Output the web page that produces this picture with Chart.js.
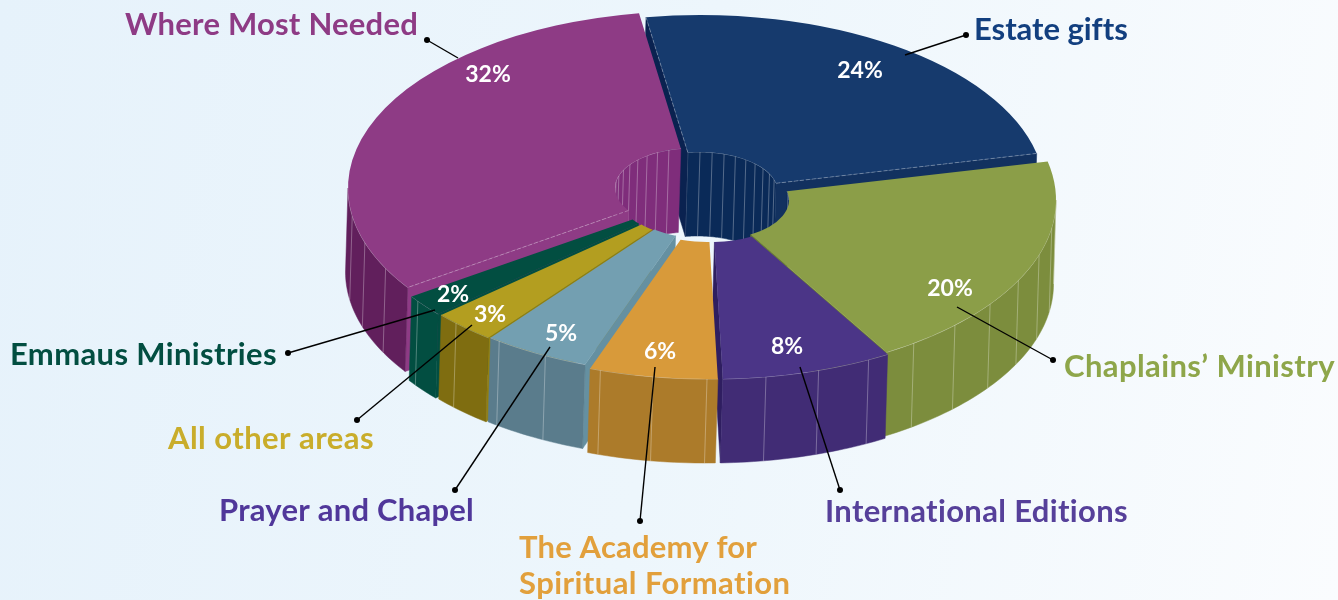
<!DOCTYPE html>
<html>
<head>
<meta charset="utf-8">
<script src="https://cdn.jsdelivr.net/npm/chart.js@4"></script>
<style>
html,body{margin:0;padding:0;width:1338px;height:600px;overflow:hidden;background:linear-gradient(100deg,#e6f2fb 0%,#edf6fc 50%,#fafcfe 100%)}
canvas{display:block}
</style>
</head>
<body>
<canvas id="c" width="1338" height="600"></canvas>
<script>
const categories = ["Estate gifts","Chaplains’ Ministry","International Editions","The Academy for Spiritual Formation","Prayer and Chapel","All other areas","Emmaus Ministries","Where Most Needed"];
const shares = [24,20,8,6,5,3,2,32];
const topColors = ["#163a6d","#8b9e48","#4b3587","#d89a3a","#739fb1","#b39e20","#024e41","#8e3b85"];
const wallColors = ["#12315f","#7c8d3d","#412c75","#ac7b2a","#5a7c8c","#7f6d10","#024e41","#611f5c"];
const cutColors = ["#0a2250","#70822f","#2f1e60","#a87828","#6590a1","#94800f","#024e41","#8e3b85"];
const innerColors = ["#0a2a58","#0a2a58","#412c75","#ac7b2a","#5a7c8c","#7f6d10","#024e41","#7f2d7b"];
const labelColors = ["#123f7f","#8ea64a","#56409a","#e2a03c","#50379a","#c9ad2b","#024e41","#8e3b85"];

const GEO = {rx:345, ry:177, depth:84, lean:-2.5, cutout:'22.6%', rotation:-9};
// where each exploded slice's centre lands on the page
const ORIGINS = [[700,192],[711,200],[712,202],[707,202],[702,198],[700,198],[697,197],[693,188]];
const LABELS = [
 {lines:["Estate gifts"],x:974,y:[40],w:[153]},
 {lines:["Chaplains’ Ministry"],x:1064,y:[377],w:[271]},
 {lines:["International Editions"],x:825,y:[522],w:[304]},
 {lines:["The Academy for","Spiritual Formation"],x:519,y:[558,594],w:[238,272]},
 {lines:["Prayer and Chapel"],x:219,y:[521],w:[255]},
 {lines:["All other areas"],x:168,y:[449],w:[206]},
 {lines:["Emmaus Ministries"],x:10,y:[365],w:[267]},
 {lines:["Where Most Needed"],x:125,y:[35],w:[293]}
];
const PCT = [[860,71],[950,289],[787,347],[660,352],[561,334],[490,315],[453,295],[488,75]];
const LEADERS = [[966,35,905,55],[1053,360,957,307],[840,490,800,367],[640,521,655,367],[455,490,550,347],[357,420,472,325],[288,353,435,310],[427,40,458,58]];

const TAU = Math.PI*2;
function pt(arc, i, ang, r, depth){
  const sx=GEO.rx/arc.outerRadius, sy=GEO.ry/arc.outerRadius;
  return [ORIGINS[i][0] + sx*r*Math.cos(ang) + GEO.lean*depth/GEO.depth, ORIGINS[i][1] + sy*r*Math.sin(ang) + depth];
}
function overlap(a1,a2,lo,hi){
  for(let k=-1;k<=1;k++){
    const s=Math.max(a1,lo+k*TAU), e=Math.min(a2,hi+k*TAU);
    if(e>s) return [s,e];
  }
  return null;
}
function wall(ctx,arc,i,range,r,color){
  const angs=[];
  const n=Math.max(2,Math.ceil((range[1]-range[0])/0.02));
  for(let k=0;k<=n;k++) angs.push(range[0]+(range[1]-range[0])*k/n);
  ctx.beginPath();
  angs.forEach((a,k)=>{const p=pt(arc,i,a,r,0); k?ctx.lineTo(p[0],p[1]):ctx.moveTo(p[0],p[1]);});
  angs.slice().reverse().forEach(a=>{const p=pt(arc,i,a,r,GEO.depth); ctx.lineTo(p[0],p[1]);});
  ctx.closePath();
  ctx.fillStyle=color; ctx.fill();
  ctx.strokeStyle=color; ctx.lineWidth=.5; ctx.stroke();
  ctx.lineWidth=1; ctx.strokeStyle='rgba(255,255,255,.3)';
  const step=9*Math.PI/180;
  for(let a=Math.ceil(range[0]/step)*step;a<range[1];a+=step){
    const p=pt(arc,i,a,r,0), q=pt(arc,i,a,r,GEO.depth);
    ctx.beginPath();ctx.moveTo(p[0],p[1]);ctx.lineTo(q[0],q[1]);ctx.stroke();
  }
  ctx.strokeStyle='rgba(255,255,255,.4)'; ctx.lineWidth=.8;
  ctx.beginPath();
  angs.forEach((a,k)=>{const p=pt(arc,i,a,r,0); k?ctx.lineTo(p[0],p[1]):ctx.moveTo(p[0],p[1]);});
  ctx.stroke();
}
function cut(ctx,arc,i,ang,color){
  const a=pt(arc,i,ang,arc.innerRadius,0),b=pt(arc,i,ang,arc.outerRadius,0),c=pt(arc,i,ang,arc.outerRadius,GEO.depth),d=pt(arc,i,ang,arc.innerRadius,GEO.depth);
  ctx.beginPath();ctx.moveTo(a[0],a[1]);ctx.lineTo(b[0],b[1]);ctx.lineTo(c[0],c[1]);ctx.lineTo(d[0],d[1]);ctx.closePath();
  ctx.fillStyle=color;ctx.fill();
  ctx.strokeStyle=color;ctx.lineWidth=.5;ctx.stroke();
}
function edge(ctx,arc,i,ang){
  const a=pt(arc,i,ang,arc.innerRadius,0),b=pt(arc,i,ang,arc.outerRadius,0);
  ctx.save();
  ctx.strokeStyle='rgba(255,255,255,.3)';ctx.lineWidth=1;ctx.setLineDash([4,2]);
  ctx.beginPath();ctx.moveTo(a[0],a[1]);ctx.lineTo(b[0],b[1]);ctx.stroke();
  ctx.restore();
}
const solid = {
  id:'solid',
  beforeDatasetDraw(chart,args){
    const ctx=chart.ctx, arcs=args.meta.data;
    const order=arcs.map((a,i)=>i).sort((p,q)=>Math.sin((arcs[p].startAngle+arcs[p].endAngle)/2)-Math.sin((arcs[q].startAngle+arcs[q].endAngle)/2));
    order.forEach(i=>{
      const arc=arcs[i];
      const inner=overlap(arc.startAngle,arc.endAngle,Math.PI,TAU);
      if(inner) wall(ctx,arc,i,inner,arc.innerRadius,innerColors[i]);
      if(-Math.cos(arc.startAngle)>0) cut(ctx,arc,i,arc.startAngle,cutColors[i]);
      if(Math.cos(arc.endAngle)>0) cut(ctx,arc,i,arc.endAngle,i===0?wallColors[0]:cutColors[i]);
      const outer=overlap(arc.startAngle,arc.endAngle,0,Math.PI);
      if(outer) wall(ctx,arc,i,outer,arc.outerRadius,wallColors[i]);
    });
    arcs.forEach((arc,i)=>{
      ctx.save();
      ctx.translate(ORIGINS[i][0],ORIGINS[i][1]);
      ctx.scale(GEO.rx/arc.outerRadius,GEO.ry/arc.outerRadius);
      ctx.translate(-arc.x,-arc.y);
      arc.draw(ctx);
      ctx.restore();
    });
    edge(ctx,arcs[0],0,arcs[0].startAngle);
    edge(ctx,arcs[0],0,arcs[0].endAngle);
    edge(ctx,arcs[7],7,arcs[7].startAngle);
    return false;
  },
  afterDraw(chart){
    const ctx=chart.ctx;
    ctx.save();
    ctx.strokeStyle='#000'; ctx.fillStyle='#000'; ctx.lineWidth=1.4;
    LEADERS.forEach(l=>{
      ctx.beginPath();ctx.moveTo(l[0],l[1]);ctx.lineTo(l[2],l[3]);ctx.stroke();
      ctx.beginPath();ctx.arc(l[0],l[1],3,0,TAU);ctx.fill();
    });
    ctx.textBaseline='alphabetic'; ctx.textAlign='left';
    ctx.font='bold 31px Lato';
    LABELS.forEach((l,i)=>{
      ctx.fillStyle=labelColors[i];
      l.lines.forEach((t,j)=>{
        ctx.letterSpacing='0px';
        const m=ctx.measureText(t).width;
        ctx.letterSpacing=((l.w[j]-m)/t.length).toFixed(3)+'px';
        ctx.fillText(t,l.x,l.y[j]);
      });
    });
    ctx.letterSpacing='0px';
    ctx.font='bold 23px Lato';
    ctx.fillStyle='#fff'; ctx.textAlign='center'; ctx.textBaseline='middle';
    shares.forEach((v,i)=>ctx.fillText(v+'%',PCT[i][0],PCT[i][1]));
    ctx.restore();
  }
};
new Chart(document.getElementById('c'),{
  type:'doughnut',
  data:{labels:categories,datasets:[{data:shares,backgroundColor:topColors,borderWidth:0}]},
  options:{responsive:false,animation:false,events:[],cutout:GEO.cutout,rotation:GEO.rotation,
    layout:{padding:0},plugins:{legend:{display:false},tooltip:{enabled:false}}},
  plugins:[solid]
});
</script>
</body>
</html>
